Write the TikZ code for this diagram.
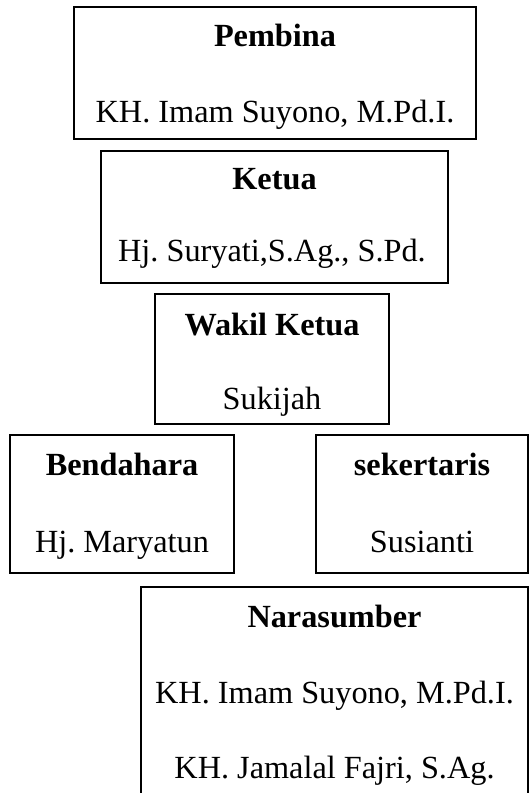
\documentclass[tikz,border=0pt]{standalone}
\usepackage{fontspec}
\setmainfont{Liberation Serif}
\usetikzlibrary{positioning}
\newcommand{\unitpx}{0.381pt}
\frenchspacing

\begin{document}
\begin{tikzpicture}[x=\unitpx, y=-\unitpx, font=\fontsize{12.3pt}{14pt}\selectfont]
% Styles:
\tikzset{kotak/.style={draw, line width=0.75pt, rectangle, inner sep=0pt}}
\tikzset{judul/.style={font=\bfseries\fontsize{12.3pt}{14pt}\selectfont, anchor=base, inner sep=0pt}}
\tikzset{nama/.style={anchor=base, inner sep=0pt}}

\useasboundingbox (0,0) rectangle (530,793);

% Boxes:
\node[kotak, minimum width=402*\unitpx, minimum height=132*\unitpx] (pembina) at (275,73) {};
\node[kotak, minimum width=347*\unitpx, minimum height=132*\unitpx] (ketua) at (274.5,217) {};
\node[kotak, minimum width=234*\unitpx, minimum height=130*\unitpx] (wakil) at (272,359) {};
\node[kotak, minimum width=224*\unitpx, minimum height=138*\unitpx] (bendahara) at (122,504) {};
\node[kotak, minimum width=212*\unitpx, minimum height=138*\unitpx] (sekertaris) at (422,504) {};
\node[kotak, minimum width=387*\unitpx, minimum height=223*\unitpx] (narasumber) at (334.5,698.5) {};

% Titles and names:
\node[judul] (pembinaJ) at (275,47) {Pembina};
\node[nama]  (pembinaN) at (275,123) {KH. Imam Suyono, M.Pd.I.};
\node[judul] (ketuaJ) at (274.5,190) {Ketua};
\node[nama]  (ketuaN) at (272,262) {Hj. Suryati,S.Ag., S.Pd.};
\node[judul] (wakilJ) at (272,335) {Wakil Ketua};
\node[nama]  (wakilN) at (272,409) {Sukijah};
\node[judul] (bendaharaJ) at (122,475) {Bendahara};
\node[nama]  (bendaharaN) at (122,552) {Hj. Maryatun};
\node[judul] (sekertarisJ) at (422,475) {sekertaris};
\node[nama]  (sekertarisN) at (422,552) {Susianti};
\node[judul] (narasumberJ) at (334.5,627) {Narasumber};
\node[nama]  (narasumberA) at (334.5,703) {KH. Imam Suyono, M.Pd.I.};
\node[nama]  (narasumberB) at (334.5,778) {KH. Jamalal Fajri, S.Ag.};
\end{tikzpicture}
\end{document}
